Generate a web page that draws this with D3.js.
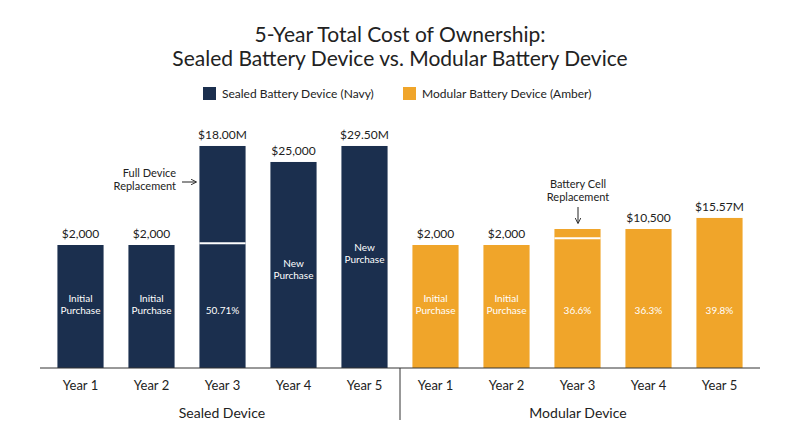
<!DOCTYPE html>
<html><head><meta charset="utf-8">
<script src="https://cdn.jsdelivr.net/npm/d3@7"></script>
<style>body{margin:0;background:#fff}text{font-family:Lato,"Open Sans",sans-serif}</style>
</head><body><svg id="c" width="800" height="447"></svg>
<script>
const years=["Year 1","Year 2","Year 3","Year 4","Year 5"];
const groups=["Sealed Device","Modular Device"];
const sealedTotal=[2.0,2.0,3.61,3.35,3.61];
const sealedBase=[2.0,2.0,2.03,3.35,3.61];
const modularTotal=[2.0,2.0,2.26,2.26,2.44];
const modularBase=[2.0,2.0,2.11,2.26,2.44];
const sealedTop=["$2,000","$2,000","$18.00M","$25,000","$29.50M"];
const modularTop=["$2,000","$2,000","","$10,500","$15.57M"];
const sealedInner=[["Initial","Purchase"],["Initial","Purchase"],["50.71%"],["New","Purchase"],["New","Purchase"]];
const modularInner=[["Initial","Purchase"],["Initial","Purchase"],["36.6%"],["36.3%"],["39.8%"]];
const colors=["#1b2f4e","#f0a52a"];

const svg=d3.select("#c");
const keys=d3.range(10);
const x=d3.scaleBand().domain(keys).range([45,755]).paddingInner(0.35).paddingOuter(0.175);
const y=d3.scaleLinear().domain([0,4]).range([368,122]);

svg.append("text").attr("x",400).attr("y",42).attr("text-anchor","middle").attr("font-size",21).attr("fill","#222").text("5-Year Total Cost of Ownership:");
svg.append("text").attr("x",400).attr("y",66).attr("text-anchor","middle").attr("font-size",21).attr("fill","#222").text("Sealed Battery Device vs. Modular Battery Device");
const leg=[["Sealed Battery Device (Navy)",203],["Modular Battery Device (Amber)",403]];
leg.forEach((l,i)=>{svg.append("rect").attr("x",l[1]).attr("y",87).attr("width",13).attr("height",13).attr("fill",colors[i]);
svg.append("text").attr("x",l[1]+19).attr("y",98).attr("font-size",12).attr("fill","#222").text(l[0]);});

const data=[];
years.forEach((yr,i)=>data.push({k:i,g:0,total:sealedTotal[i],base:sealedBase[i],top:sealedTop[i],inner:sealedInner[i]}));
years.forEach((yr,i)=>data.push({k:5+i,g:1,total:modularTotal[i],base:modularBase[i],top:modularTop[i],inner:modularInner[i]}));

data.forEach(d=>{
 const cx=x(d.k)+x.bandwidth()/2;
 svg.append("rect").attr("x",x(d.k)).attr("width",x.bandwidth()).attr("y",y(d.total)).attr("height",y(0)-y(d.total)).attr("fill",colors[d.g]);
 if(d.base<d.total) svg.append("line").attr("x1",x(d.k)).attr("x2",x(d.k)+x.bandwidth()).attr("y1",y(d.base)).attr("y2",y(d.base)).attr("stroke","#fff").attr("stroke-width",2);
 if(d.top) svg.append("text").attr("x",cx).attr("y",y(d.total)-7).attr("text-anchor","middle").attr("font-size",12).attr("fill","#222").text(d.top);
 const innerY = d.inner.length===2 ? (d.k===3||d.k===4? y(d.total)+105 : 302) : 314;
 d.inner.forEach((t,j)=>svg.append("text").attr("x",cx).attr("y",innerY+j*12).attr("text-anchor","middle").attr("font-size",10).attr("fill","#fff").text(t));
 svg.append("text").attr("x",cx).attr("y",390).attr("text-anchor","middle").attr("font-size",13).attr("fill","#222").text(years[d.k%5]);
});
svg.append("line").attr("x1",40).attr("x2",760).attr("y1",368).attr("y2",368).attr("stroke","#333");
svg.append("line").attr("x1",400).attr("x2",400).attr("y1",368).attr("y2",420).attr("stroke","#333");
svg.append("text").attr("x",222).attr("y",418).attr("text-anchor","middle").attr("font-size",14).attr("fill","#222").text(groups[0]);
svg.append("text").attr("x",578).attr("y",418).attr("text-anchor","middle").attr("font-size",14).attr("fill","#222").text(groups[1]);
// annotations
svg.append("text").attr("x",176).attr("y",177).attr("text-anchor","end").attr("font-size",11).attr("fill","#222").text("Full Device");
svg.append("text").attr("x",176).attr("y",190).attr("text-anchor","end").attr("font-size",11).attr("fill","#222").text("Replacement");
svg.append("defs").append("marker").attr("id","ar").attr("viewBox","0 0 10 10").attr("refX",9).attr("refY",5).attr("markerWidth",6).attr("markerHeight",6).attr("orient","auto").append("path").attr("d","M0,0L10,5L0,10").attr("fill","none").attr("stroke","#222").attr("stroke-width",1.5);
svg.append("line").attr("x1",182).attr("x2",196).attr("y1",182).attr("y2",182).attr("stroke","#222").attr("marker-end","url(#ar)");
svg.append("text").attr("x",578).attr("y",188).attr("text-anchor","middle").attr("font-size",11).attr("fill","#222").text("Battery Cell");
svg.append("text").attr("x",578).attr("y",201).attr("text-anchor","middle").attr("font-size",11).attr("fill","#222").text("Replacement");
svg.append("line").attr("x1",578).attr("x2",578).attr("y1",207).attr("y2",223).attr("stroke","#222").attr("marker-end","url(#ar)");
</script></body></html>
